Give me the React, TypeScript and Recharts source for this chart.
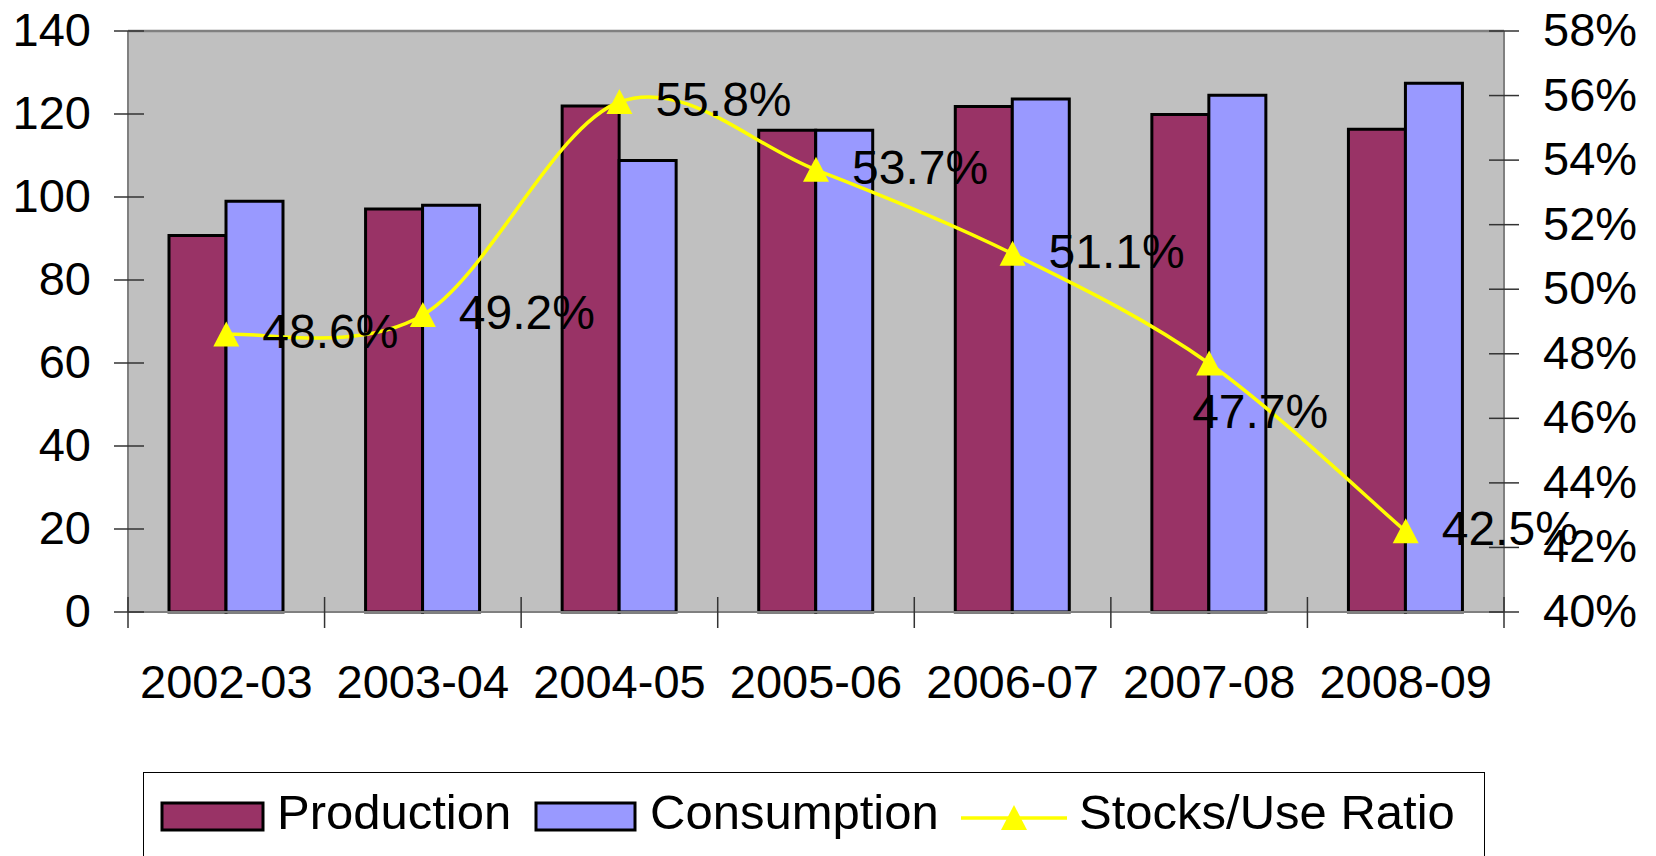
import * as React from "react";
import {
  ComposedChart, Bar, Line, XAxis, YAxis, CartesianGrid, LabelList, ReferenceLine,
} from "recharts";

const YEARS       = ["2002-03", "2003-04", "2004-05", "2005-06", "2006-07", "2007-08", "2008-09"];
const PRODUCTION  = [90.7, 97.1, 121.9, 116.1, 121.8, 119.9, 116.3];
const CONSUMPTION = [99.0, 98.0, 108.8, 116.1, 123.6, 124.5, 127.4];
const RATIO       = [48.6, 49.2, 55.8, 53.7, 51.1, 47.7, 42.5];
const LEFT_TICKS  = [0, 20, 40, 60, 80, 100, 120, 140];
const RIGHT_TICKS = [40, 42, 44, 46, 48, 50, 52, 54, 56, 58];

const data = YEARS.map((year, i) => ({
  year,
  production: PRODUCTION[i],
  consumption: CONSUMPTION[i],
  ratio: RATIO[i],
}));

const W = 1656;
const H = 856;
const FONT = '"Liberation Sans", Arial, sans-serif';
const PLUM = "#993366";
const LAV  = "#9999FF";
const YEL  = "#FFFF00";
const AXIS = "#808080";
const TICK = "#333333";
const BAND = (1504 - 128) / YEARS.length;

// Excel-style smoothed line (Catmull-Rom as bezier)
function excelCurve(context: any) {
  let pts: number[][] = [];
  return {
    areaStart() {},
    areaEnd() {},
    lineStart() { pts = []; },
    point(x: number, y: number) { pts.push([+x, +y]); },
    lineEnd() {
      if (!pts.length) return;
      context.moveTo(pts[0][0], pts[0][1]);
      for (let i = 0; i < pts.length - 1; i++) {
        const p0 = pts[Math.max(0, i - 1)];
        const p1 = pts[i];
        const p2 = pts[i + 1];
        const p3 = pts[Math.min(pts.length - 1, i + 2)];
        context.bezierCurveTo(
          p1[0] + (p2[0] - p0[0]) / 6, p1[1] + (p2[1] - p0[1]) / 6,
          p2[0] - (p3[0] - p1[0]) / 6, p2[1] - (p3[1] - p1[1]) / 6,
          p2[0], p2[1],
        );
      }
    },
  };
}

function LeftTick({ x, y, payload }: any) {
  return (
    <g>
      <line x1={x - 14} x2={x + 16} y1={y} y2={y} stroke={TICK} strokeWidth={1.5} />
      <text x={x - 37} y={y} dy={15} textAnchor="end" fontFamily={FONT} fontSize={47} fill="#000">
        {payload.value}
      </text>
    </g>
  );
}

function RightTick({ x, y, payload }: any) {
  return (
    <g>
      <line x1={x - 15} x2={x + 15} y1={y} y2={y} stroke={TICK} strokeWidth={1.5} />
      <text x={x + 39} y={y} dy={15} textAnchor="start" fontFamily={FONT} fontSize={47} fill="#000">
        {`${payload.value}%`}
      </text>
    </g>
  );
}

function CatTick({ x, y, payload, index }: any) {
  const left = x - BAND / 2;
  return (
    <g>
      <line x1={left} x2={left} y1={y - 15} y2={y + 16} stroke={TICK} strokeWidth={1.5} />
      {index === YEARS.length - 1 && (
        <line x1={x + BAND / 2} x2={x + BAND / 2} y1={y - 15} y2={y + 16} stroke={TICK} strokeWidth={1.5} />
      )}
      <text x={x} y={y} dy={86} textAnchor="middle" fontFamily={FONT} fontSize={47} fill="#000">
        {payload.value}
      </text>
    </g>
  );
}

function Triangle({ cx, cy }: any) {
  if (cx == null || cy == null) return null;
  return <path d={`M${cx},${cy - 13} L${cx + 13},${cy + 12} L${cx - 13},${cy + 12} Z`} fill={YEL} />;
}

// the 2007-08 label sits below its marker in the original
function RatioLabel({ x, y, value, index }: any) {
  const below = index === 5;
  return (
    <text x={below ? x - 17 : x + 36} y={y} dy={below ? 65 : 14} fontFamily={FONT} fontSize={48} fill="#000">
      {`${value}%`}
    </text>
  );
}

function ChartLegend() {
  return (
    <div style={{ position: "absolute", left: 143, top: 772, width: 1342, height: 100, border: "1.5px solid #000", boxSizing: "border-box" }}>
      <svg width={1342} height={100} style={{ position: "absolute", left: -1.5, top: -1.5 }}>
        <g transform="translate(-143,-772)">
          <rect x={162} y={803} width={101} height={27} fill={PLUM} stroke="#000" strokeWidth={3} />
          <text x={277} y={829} fontFamily={FONT} fontSize={49}>Production</text>
          <rect x={536} y={803} width={99} height={27} fill={LAV} stroke="#000" strokeWidth={3} />
          <text x={650} y={829} fontFamily={FONT} fontSize={49}>Consumption</text>
          <line x1={961} x2={1067} y1={818} y2={818} stroke={YEL} strokeWidth={3.5} />
          <Triangle cx={1014} cy={818} />
          <text x={1079} y={829} fontFamily={FONT} fontSize={49}>Stocks/Use Ratio</text>
        </g>
      </svg>
    </div>
  );
}

export default function App() {
  return (
    <div style={{ position: "absolute", left: 0, top: 0, width: W, height: H, background: "#fff", overflow: "hidden" }}>
      <ComposedChart width={W} height={H} data={data} margin={{ top: 31, right: 0, bottom: 0, left: 0 }}
        barCategoryGap={41} barGap={0}>
        <CartesianGrid horizontal={false} vertical={false} fill="#C0C0C0" />
        <XAxis dataKey="year" height={244} tickSize={0} tickMargin={0} axisLine={{ stroke: AXIS, strokeWidth: 2 }}
          tickLine={false} tick={<CatTick />} interval={0} />
        <YAxis yAxisId="left" width={128} domain={[0, 140]} ticks={LEFT_TICKS} tickSize={0} tickMargin={0}
          axisLine={{ stroke: AXIS, strokeWidth: 2 }} tickLine={false} tick={<LeftTick />} />
        <YAxis yAxisId="right" orientation="right" width={152} domain={[40, 58]} ticks={RIGHT_TICKS} tickSize={0}
          tickMargin={0} axisLine={{ stroke: AXIS, strokeWidth: 2 }} tickLine={false} tick={<RightTick />} />
        <ReferenceLine yAxisId="left" y={140} stroke={AXIS} strokeWidth={2.5} />
        <Bar yAxisId="left" dataKey="production" name="Production" fill={PLUM} stroke="#000" strokeWidth={3}
          isAnimationActive={false} />
        <Bar yAxisId="left" dataKey="consumption" name="Consumption" fill={LAV} stroke="#000" strokeWidth={3}
          isAnimationActive={false} />
        <Line yAxisId="right" dataKey="ratio" name="Stocks/Use Ratio" type={excelCurve as any} stroke={YEL}
          strokeWidth={3.5} dot={<Triangle />} activeDot={false} isAnimationActive={false}>
          <LabelList dataKey="ratio" content={<RatioLabel />} />
        </Line>
      </ComposedChart>
      <ChartLegend />
    </div>
  );
}
